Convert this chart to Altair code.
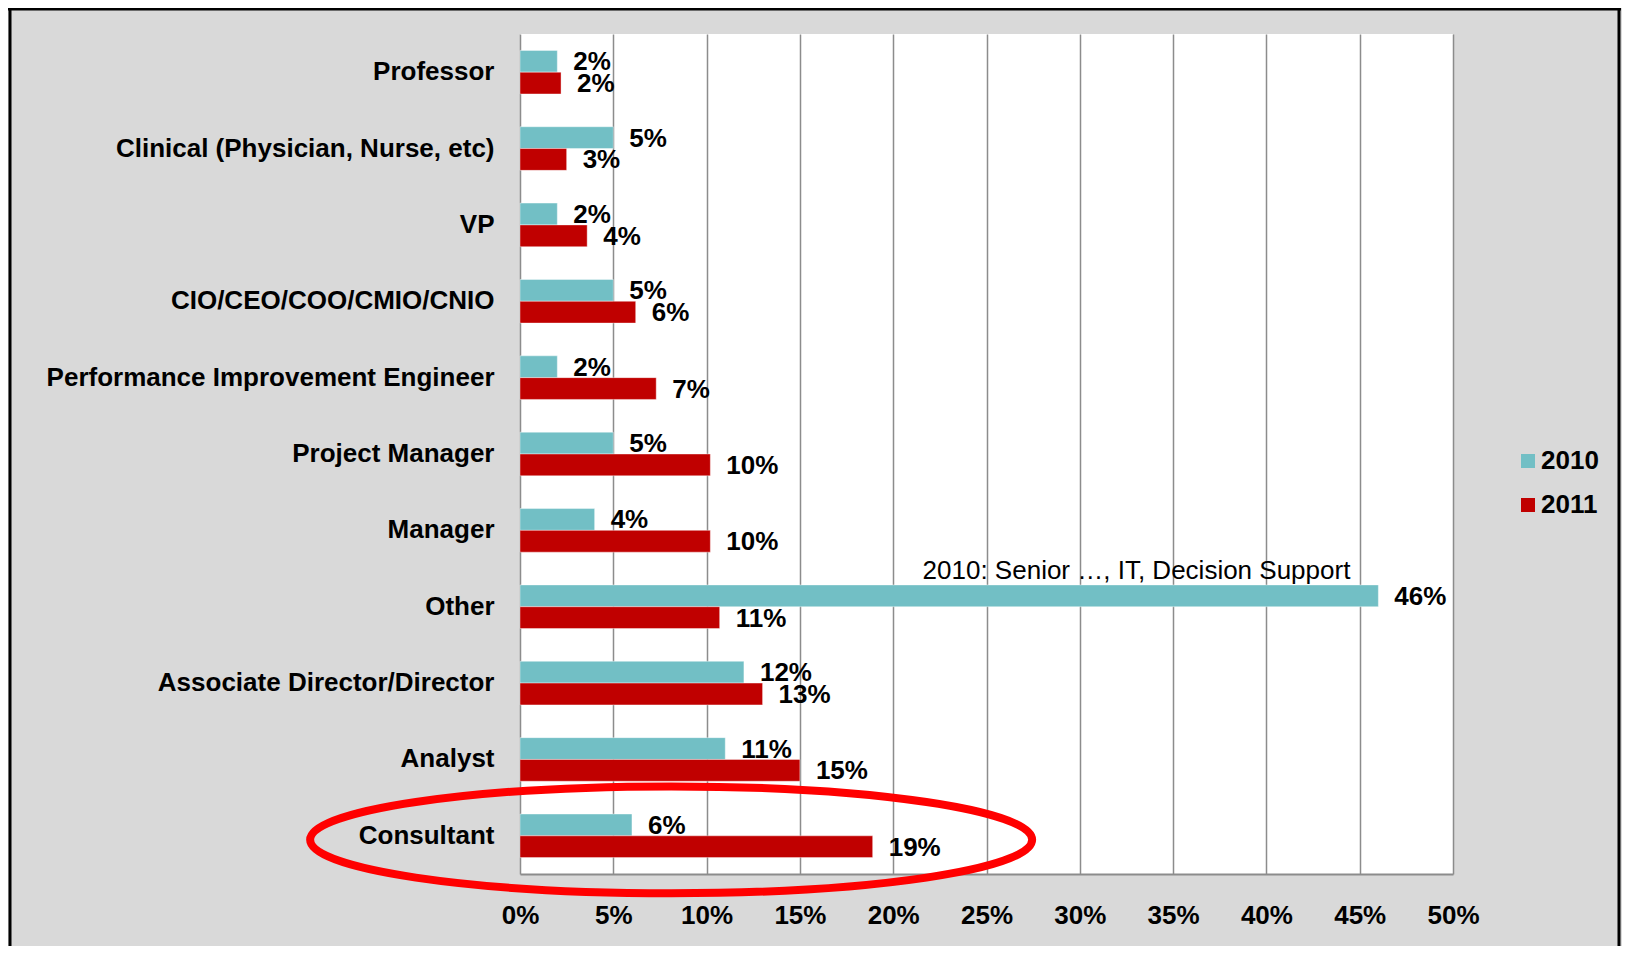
import altair as alt
import pandas as pd

categories = [
    "Professor", "Clinical (Physician, Nurse, etc)", "VP", "CIO/CEO/COO/CMIO/CNIO",
    "Performance Improvement Engineer", "Project Manager", "Manager", "Other",
    "Associate Director/Director", "Analyst", "Consultant",
]
values_2010 = [2.0, 5.0, 2.0, 5.0, 2.0, 5.0, 4.0, 46.0, 12.0, 11.0, 6.0]
values_2011 = [2.2, 2.5, 3.6, 6.2, 7.3, 10.2, 10.2, 10.7, 13.0, 15.0, 18.9]
labels_2010 = ["2%", "5%", "2%", "5%", "2%", "5%", "4%", "46%", "12%", "11%", "6%"]
labels_2011 = ["2%", "3%", "4%", "6%", "7%", "10%", "10%", "11%", "13%", "15%", "19%"]
years = ["2010", "2011"]
colors = ["#72BFC5", "#C00000"]
x_ticks = [0, 5, 10, 15, 20, 25, 30, 35, 40, 45, 50]
note_text = "2010: Senior \u2026, IT, Decision Support"
note_category = "Other"
highlight_category = "Consultant"
highlight_x = 8.1

rows = []
for c, v, l in zip(categories, values_2010, labels_2010):
    rows.append({"cat": c, "year": "2010", "v": v, "lab": l})
for c, v, l in zip(categories, values_2011, labels_2011):
    rows.append({"cat": c, "year": "2011", "v": v, "lab": l})
df = pd.DataFrame(rows)

FONT = "Liberation Sans"
W, H = 933, 840

yscale = alt.Scale(domain=categories, paddingInner=0.429, paddingOuter=0.2145)
xscale = alt.Scale(domain=[0, 50], nice=False, zero=True)

y_enc = alt.Y("cat:N", scale=yscale, sort=categories, title=None,
              axis=alt.Axis(labelFont=FONT, labelFontSize=26, labelFontWeight="bold",
                            labelColor="black", ticks=False, domain=False,
                            labelPadding=26, labelLimit=600, grid=False))
x_enc = alt.X("v:Q", scale=xscale, title=None,
              axis=alt.Axis(values=x_ticks, labelExpr="datum.value + '%'",
                            labelFont=FONT, labelFontSize=26, labelFontWeight="bold",
                            labelColor="black", ticks=False, domain=True,
                            domainColor="#8C8C8C", domainWidth=2,
                            grid=True, gridColor="#8C8C8C", gridWidth=1.5,
                            labelPadding=28, labelFlush=False))
yoff = alt.YOffset("year:N", sort=years, scale=alt.Scale(paddingInner=0, paddingOuter=0))

bars = alt.Chart(df).mark_bar(stroke="white", strokeOpacity=0.4, strokeWidth=1).encode(
    y=y_enc, x=x_enc, yOffset=yoff,
    color=alt.Color("year:N", sort=years,
                    scale=alt.Scale(domain=years, range=colors),
                    legend=alt.Legend(title=None, orient="none", legendX=995, legendY=414,
                                      symbolType="square", symbolSize=196,
                                      symbolStrokeWidth=0, labelFont=FONT,
                                      labelFontSize=26, labelFontWeight="bold",
                                      labelColor="black", rowPadding=18,
                                      labelOffset=0, padding=0)),
)

texts = alt.Chart(df).mark_text(align="left", baseline="middle", dx=16, dy=1,
                                font=FONT, fontSize=26, fontWeight="bold",
                                color="black").encode(
    y=alt.Y("cat:N", scale=yscale, sort=categories),
    x=alt.X("v:Q", scale=xscale),
    yOffset=yoff,
    text="lab:N",
)

note_df = pd.DataFrame([{"cat": note_category, "year": "2010",
                         "v": values_2010[categories.index(note_category)],
                         "lab": note_text}])
note = alt.Chart(note_df).mark_text(align="right", baseline="middle", dx=-28, dy=-25,
                                    font=FONT, fontSize=26, color="black").encode(
    y=alt.Y("cat:N", scale=yscale, sort=categories),
    x=alt.X("v:Q", scale=xscale),
    yOffset=yoff,
    text="lab:N",
)

k = 0.148
c = 0.5523
oy = 4 / 361
ell_path = (
    f"M -1 {oy} C -1 {oy - k*c} {-c} {oy - k} 0 {oy - k} "
    f"C {c} {oy - k} 1 {oy - k*c} 1 {oy} "
    f"C 1 {oy + k*c} {c} {oy + k} 0 {oy + k} "
    f"C {-c} {oy + k} -1 {oy + k*c} -1 {oy} Z"
)
ell_df = pd.DataFrame([{"cat": highlight_category, "v": highlight_x}])
ellipse = alt.Chart(ell_df).mark_point(shape=ell_path, size=722 * 722, filled=False,
                                       stroke="#FF0000", strokeWidth=8, opacity=1,
                                       clip=False).encode(
    y=alt.Y("cat:N", scale=yscale, sort=categories),
    x=alt.X("v:Q", scale=xscale),
)

left_edge = alt.Chart(ell_df).mark_rule(color="black", strokeWidth=3, clip=False).encode(
    x=alt.value(-510), y=alt.value(-26), y2=alt.value(H + 80),
)
right_edge = alt.Chart(ell_df).mark_rule(color="black", strokeWidth=3, clip=False).encode(
    x=alt.value(W + 166), y=alt.value(-26), y2=alt.value(H + 80),
)
top_edge = alt.Chart(ell_df).mark_rule(color="black", strokeWidth=3, clip=False).encode(
    x=alt.value(-512), x2=alt.value(W + 168), y=alt.value(-25),
)

chart = alt.layer(left_edge, right_edge, top_edge, bars, texts, note, ellipse).properties(
    width=W, height=H,
    padding={"left": 512, "top": 26, "right": 169, "bottom": 72},
    autosize=alt.AutoSizeParams(type="none"),
    background="#D9D9D9",
).configure_view(stroke=None, fill="white")

chart.save("out.html", embed_options={"renderer": "svg", "actions": False})
